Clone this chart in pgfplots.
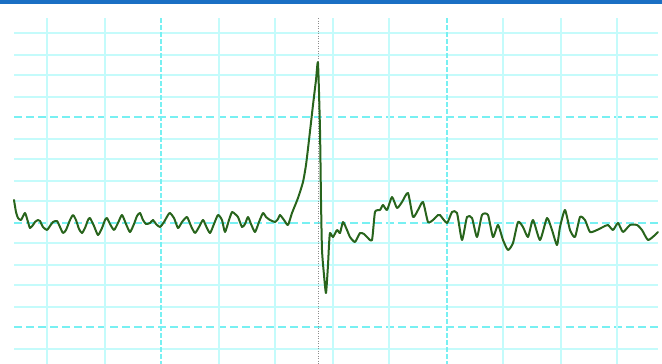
\documentclass[border=0pt]{standalone}
\usepackage{pgfplots}
\pgfplotsset{compat=1.18}

\definecolor{topbar}{RGB}{26,111,196}
\definecolor{gridminor}{RGB}{196,251,251}
\definecolor{gridmajor}{RGB}{120,240,242}
\definecolor{marker}{RGB}{140,140,140}
\definecolor{trace}{RGB}{40,100,28}

\begin{document}
\begin{tikzpicture}
\begin{axis}[
  scale only axis,
  width=662pt, height=364pt,
  xmin=0, xmax=662, ymin=0, ymax=364,
  y dir=reverse,
  axis lines=none,
  ticks=none,
  clip=true,
]
% paper grid: small boxes solid, every fifth line dashed
\foreach \yy/\major in {33/0,55/0,75/0,97/0,117/1,139/0,159/0,181/0,201/0,223/1,243/0,265/0,285/0,307/0,327/1,349/0}{
  \ifnum\major=1
    \edef\tmp{\noexpand\draw[gridmajor, line width=2pt, dash pattern=on 8pt off 4pt] (axis cs:14,\yy) -- (axis cs:658,\yy);}\tmp
  \else
    \edef\tmp{\noexpand\draw[gridminor, line width=2pt] (axis cs:14,\yy) -- (axis cs:658,\yy);}\tmp
  \fi
}
\foreach \xx/\major in {47/0,105/0,161/1,219/0,275/0,333/0,389/0,447/1,503/0,561/0,617/0}{
  \ifnum\major=1
    \edef\tmp{\noexpand\draw[gridmajor, line width=2pt, dash pattern=on 5pt off 2pt] (axis cs:\xx,18) -- (axis cs:\xx,364);}\tmp
  \else
    \edef\tmp{\noexpand\draw[gridminor, line width=2pt] (axis cs:\xx,18) -- (axis cs:\xx,364);}\tmp
  \fi
}
% cursor line
\draw[marker, line width=1pt, dash pattern=on 1pt off 1.5pt] (axis cs:318.5,18) -- (axis cs:318.5,364);
% header bar
\fill[topbar] (axis cs:0,0) rectangle (axis cs:662,4);

\addplot[trace, line width=2pt, line join=round, line cap=round, smooth, tension=0.35] coordinates {
(14,200)(16,212)(18,218)(21,220)(25,213)(28,222)(30,228)(33,225)(35,222)(38,220)
(40,221)(43,227)(47,230)(50,226)(53,222)(57,221)(60,227)(63,233)(66,230)(70,220)
(73,215)(76,220)(79,229)(82,233)(85,228)(88,220)(90,218)(94,226)(98,235)(102,228)
(105,220)(107,218)(110,224)(114,230)(118,223)(122,215)(126,224)(130,232)(134,224)(137,216)
(140,213)(143,220)(146,224)(150,223)(153,220)(156,224)(160,227)(164,222)(168,215)(170,213)
(174,218)(178,228)(182,222)(187,217)(191,226)(195,233)(199,227)(203,220)(206,226)(210,233)
(214,224)(218,215)(222,220)(225,232)(229,220)(232,212)(235,214)(238,217)(242,227)(245,224)
(248,217)(251,224)(255,232)(259,222)(263,213)(266,217)(270,220)(275,222)(278,219)(280,215)
(284,220)(288,225)(292,213)(298,198)(303,182)(306,165)(309,140)(313,105)(316,80)(318,63)
(320,130)(321,200)(322,250)(324,275)(326,293)(328,265)(329,245)(330,233)(333,237)(337,230)
(340,233)(343,222)(347,230)(350,237)(355,242)(360,233)(364,234)(367,237)(372,240)(375,212)
(380,210)(383,205)(387,210)(392,197)(397,208)(402,202)(408,193)(413,217)(418,210)(423,202)
(428,222)(433,220)(438,215)(440,215)(447,223)(452,212)(457,213)(462,240)(467,217)(472,218)
(477,237)(482,215)(488,215)(493,237)(498,225)(503,240)(508,250)(513,243)(518,222)(523,227)
(528,237)(533,220)(540,240)(547,218)(552,230)(557,245)(560,227)(565,210)(570,230)(575,237)
(580,217)(585,220)(590,232)(597,230)(603,227)(608,225)(613,230)(618,223)(623,232)(630,225)
(637,225)(642,230)(648,240)(655,235)(658,232)
};
\end{axis}
\pgfresetboundingbox
\useasboundingbox (current axis.south west) rectangle (current axis.north east);
\end{tikzpicture}
\end{document}
